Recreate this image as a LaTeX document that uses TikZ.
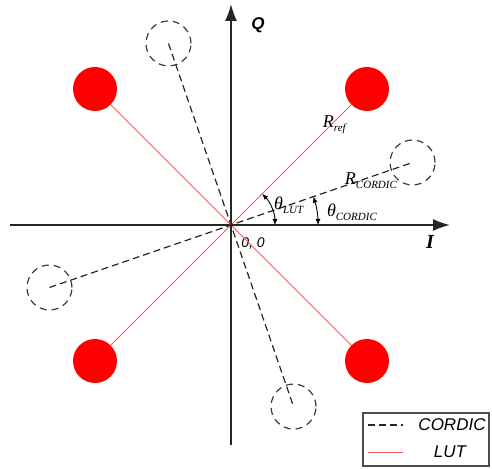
\documentclass[tikz,border=0pt]{standalone}
\usepackage{fontspec}
\setmainfont{Liberation Serif}
\newfontfamily\legendfont{Liberation Sans}
\usetikzlibrary{arrows.meta}

\definecolor{lutred}{RGB}{240,95,95}
\definecolor{dashgray}{RGB}{60,60,60}
\newcommand{\subl}[2]{\textit{#1}\raisebox{-0.5ex}{\fontsize{11}{11}\selectfont\textit{#2}}}

\begin{document}
\begin{tikzpicture}[x=1pt, y=1pt, >=Latex,
  axis/.style={line width=1.8pt, black!85, -{Latex[length=17pt,width=12pt]}},
  lutdot/.style={circle, fill=red, minimum size=44pt, inner sep=0pt},
  cordicdot/.style={circle, draw=dashgray, dash pattern=on 7pt off 5pt, line width=1.2pt, minimum size=45pt, inner sep=0pt},
  lutline/.style={lutred, line width=1pt},
  cordicline/.style={black!85, line width=1.2pt, dash pattern=on 7pt off 4pt},
  anglearrow/.style={line width=0.9pt, {Latex[length=6pt,width=5pt]}-{Latex[length=6pt,width=5pt]}},
  lbl/.style={font=\fontsize{18}{18}\selectfont}]
  \useasboundingbox (-231,-243) rectangle (261,225);
  \coordinate (O) at (0,0);

  % axes
  \coordinate (iL) at (-221,0);
  \coordinate (iR) at (219,0);
  \coordinate (qB) at (0,-220);
  \coordinate (qT) at (0,221);
  \draw[axis] (iL) -- (iR);
  \draw[axis] (qB) -- (qT);
  \node[font=\fontsize{17}{17}\selectfont\legendfont\bfseries\itshape] (qlabel) at (27,200) {Q};
  \node[font=\fontsize{20}{20}\selectfont\bfseries\itshape] (ilabel) at (199,-17) {I};
  \node[font=\fontsize{14}{14}\selectfont\legendfont\itshape] (olabel) at (22,-19) {0, 0};

  % LUT points
  \node[lutdot] (lutA) at (136,136) {};
  \node[lutdot] (lutB) at (-136,136) {};
  \node[lutdot] (lutC) at (-136,-136) {};
  \node[lutdot] (lutD) at (136,-136) {};
  \foreach \p in {lutA,lutB,lutC,lutD}
    \draw[lutline] (O) -- (\p);

  % CORDIC points
  \node[cordicdot] (corA) at (19:192) {};
  \node[cordicdot] (corB) at (109:192) {};
  \node[cordicdot] (corC) at (199:192) {};
  \node[cordicdot] (corD) at (289:192) {};
  \draw[cordicline] (corC.center) -- (corA.center);
  \draw[cordicline] (corB.center) -- (corD.center);

  % angles
  \draw[anglearrow] (44,0) arc[start angle=0, end angle=45, radius=44];
  \draw[anglearrow] (87,0) arc[start angle=0, end angle=19, radius=87];
  \node[lbl] (thlut) at (58,20) {\subl{θ}{LUT}};
  \node[lbl] (thcordic) at (121,13) {\subl{θ}{CORDIC}};
  \node[lbl] (rref) at (104,100) {\subl{R}{ref}};
  \node[lbl] (rcordic) at (140,44) {\subl{R}{CORDIC}};

  % legend
  \draw[draw=black!70, line width=1.2pt] (132,-188) rectangle (258,-241);
  \coordinate (legA1) at (137,-200);
  \coordinate (legA2) at (172,-200);
  \coordinate (legB1) at (137,-227);
  \coordinate (legB2) at (172,-227);
  \draw[cordicline] (legA1) -- (legA2);
  \draw[lutline] (legB1) -- (legB2);
  \node[font=\fontsize{17}{17}\selectfont\legendfont\itshape] (legcordic) at (221,-200) {CORDIC};
  \node[font=\fontsize{17}{17}\selectfont\legendfont\itshape] (leglut) at (219,-227) {LUT};
\end{tikzpicture}
\end{document}
